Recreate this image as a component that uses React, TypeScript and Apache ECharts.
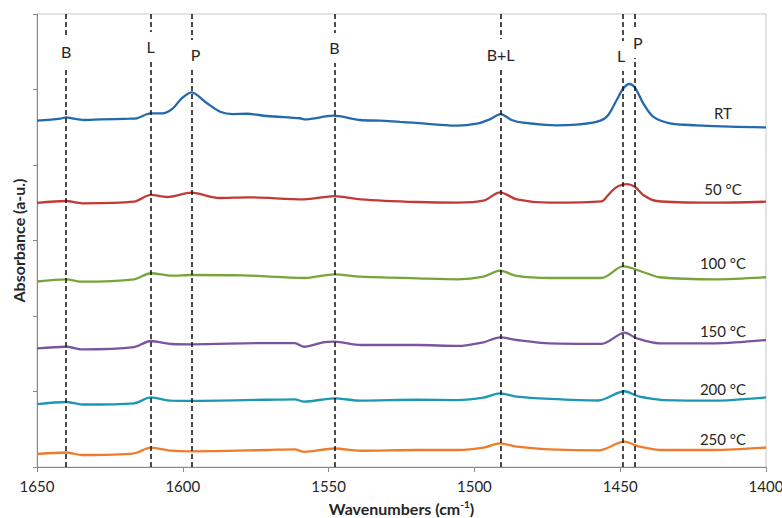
import { useEffect, useRef } from 'react';
import * as echarts from 'echarts';

// Spectra as [wavenumber (cm-1), absorbance (a.u., stacked offset)] pairs
const rtSpectrum = [
  [1650, 4.587], [1642, 4.613], [1640, 4.632], [1638, 4.619], [1634, 4.596], [1628, 4.605],
  [1618, 4.613], [1615.8, 4.619], [1612.4, 4.672], [1611, 4.685], [1607, 4.685], [1603.4, 4.751],
  [1600.4, 4.883], [1597, 4.963], [1591.8, 4.821], [1587.2, 4.706], [1582.8, 4.675], [1578, 4.679],
  [1571.2, 4.649], [1559.8, 4.619], [1558, 4.605], [1548.5, 4.653], [1539.2, 4.596], [1532.4, 4.587],
  [1525.5, 4.57], [1521, 4.56], [1506, 4.521], [1499.2, 4.547], [1494.7, 4.605], [1491, 4.675],
  [1487.2, 4.596], [1483.3, 4.56], [1471.8, 4.526], [1459.3, 4.56], [1454.6, 4.64], [1451.2, 4.861],
  [1448.9, 5.016], [1446.9, 5.073], [1445, 5.029], [1442.1, 4.817], [1438.7, 4.64], [1433, 4.552],
  [1423.8, 4.526], [1412.4, 4.507], [1400, 4.499],
];

const spectrum50 = [
  [1650, 3.497], [1640, 3.523], [1634.5, 3.493], [1616.7, 3.514], [1611, 3.603], [1605.4, 3.576],
  [1597, 3.633], [1587.5, 3.563], [1577.8, 3.572], [1558.4, 3.546], [1548, 3.589], [1539, 3.546],
  [1519.5, 3.51], [1505.8, 3.501], [1496.9, 3.527], [1491.2, 3.638], [1485.5, 3.546], [1474.2, 3.501],
  [1456.4, 3.517], [1454.2, 3.6], [1452.5, 3.669], [1450.6, 3.722], [1447.8, 3.748], [1445, 3.713],
  [1442.1, 3.603], [1437.5, 3.523], [1418.2, 3.501], [1400, 3.514],
];

const spectrum100 = [
  [1650, 2.457], [1640, 2.486], [1634.5, 2.454], [1616.7, 2.486], [1611, 2.566], [1603.8, 2.534],
  [1597, 2.543], [1579.4, 2.539], [1558.4, 2.503], [1548, 2.552], [1539, 2.521], [1519.5, 2.499],
  [1505.8, 2.486], [1496.9, 2.521], [1491.2, 2.6], [1485.5, 2.53], [1474.2, 2.503], [1456.4, 2.503],
  [1449, 2.656], [1441, 2.566], [1436.5, 2.513], [1417.5, 2.486], [1400, 2.513],
];

const spectrum150 = [
  [1650, 1.572], [1640, 1.593], [1634.5, 1.559], [1616.7, 1.589], [1611, 1.669], [1603.8, 1.629],
  [1597, 1.625], [1571.3, 1.642], [1561.6, 1.642], [1558.4, 1.593], [1551.9, 1.652], [1548, 1.66],
  [1539, 1.616], [1519.5, 1.616], [1505.8, 1.603], [1496.9, 1.652], [1491.2, 1.718], [1485.5, 1.682],
  [1474.2, 1.638], [1456.4, 1.632], [1448.4, 1.779], [1444.4, 1.705], [1436.5, 1.638], [1417.5, 1.638],
  [1400, 1.682],
];

const spectrum200 = [
  [1650, 0.834], [1640, 0.861], [1634.5, 0.828], [1616.7, 0.844], [1611, 0.921], [1603.8, 0.878],
  [1597, 0.877], [1571.3, 0.891], [1561.6, 0.897], [1558.4, 0.865], [1548, 0.91], [1539, 0.878],
  [1519.5, 0.891], [1505.8, 0.887], [1496.9, 0.918], [1491.2, 0.976], [1485.5, 0.931], [1474.2, 0.901],
  [1457.5, 0.881], [1448.5, 1.003], [1445, 0.954], [1443.3, 0.931], [1438.8, 0.901], [1435.3, 0.887],
  [1418, 0.878], [1400, 0.921],
];

const spectrum250 = [
  [1650, 0.172], [1640, 0.192], [1634.5, 0.159], [1616.7, 0.181], [1611, 0.256], [1603.8, 0.216],
  [1597, 0.208], [1571.3, 0.225], [1561.6, 0.234], [1558.4, 0.201], [1548, 0.245], [1539, 0.215],
  [1519.5, 0.225], [1505.8, 0.225], [1496.9, 0.256], [1491.2, 0.314], [1485.5, 0.269], [1474.2, 0.234],
  [1457.5, 0.219], [1448.5, 0.335], [1445, 0.291], [1443.3, 0.269], [1438.8, 0.238], [1435.3, 0.225],
  [1418, 0.225], [1400, 0.258],
];

const seriesNames = ['RT', '50 °C', '100 °C', '150 °C', '200 °C', '250 °C'];
const spectra = [rtSpectrum, spectrum50, spectrum100, spectrum150, spectrum200, spectrum250];

// Assigned bands: Brønsted (B), Lewis (L), physisorbed (P)
const bandWavenumbers = [1640, 1611, 1597, 1548, 1491, 1449, 1445];
const bandNames = ['B', 'L', 'P', 'B', 'B+L', 'L', 'P'];

const xTicks = { min: 1400, max: 1650, step: 50 };

// styling / layout
const COLORS = ['#2369ad', '#c23a35', '#76a53a', '#7a559f', '#1b98b4', '#ef7b2b'];
const NAME_LIFT = [14, 13, 14, 9, 8, 9];
const BAND_LABEL_Y = [5.497, 5.563, 5.457, 5.55, 5.47, 5.444, 5.616];
const BAND_LABEL_DX = [0, 0, 4, 0, 0, -2, 3];
const FONT = 'Lato, "Open Sans", sans-serif';
const TEXT = '#262626';

export default function App() {
  const ref = useRef<HTMLDivElement>(null);

  useEffect(() => {
    if (!ref.current) return;
    const chart = echarts.init(ref.current, null, { renderer: 'svg' });

    const series: any[] = spectra.map((data, i) => ({
      name: seriesNames[i],
      type: 'line',
      data,
      showSymbol: false,
      symbol: 'none',
      smooth: 0.3,
      z: 2,
      lineStyle: { color: COLORS[i], width: 2.3 },
      itemStyle: { color: COLORS[i] },
      endLabel: {
        show: true,
        formatter: seriesNames[i],
        distance: 0,
        align: 'center',
        verticalAlign: 'middle',
        offset: [-43, -NAME_LIFT[i]],
        fontFamily: FONT,
        fontSize: 15,
        color: TEXT,
      },
    }));

    // dashed band markers
    series[0].markLine = {
      silent: true,
      symbol: ['none', 'none'],
      label: { show: false },
      lineStyle: { color: '#111', width: 1.5, type: [5, 3] },
      data: bandWavenumbers.map((v) => ({ xAxis: v })),
    };

    // band labels, boxed in white so they break the dashed lines
    series[5].markPoint = {
      silent: true,
      symbol: 'rect',
      symbolSize: 1,
      itemStyle: { color: 'rgba(0,0,0,0)' },
      label: {
        show: true,
        position: 'inside',
        formatter: (p: any) => p.name,
        fontFamily: FONT,
        fontSize: 16,
        color: TEXT,
        backgroundColor: '#fff',
        padding: [7, 2],
      },
      data: bandNames.map((n, i) => ({
        name: n,
        coord: [bandWavenumbers[i], BAND_LABEL_Y[i]],
        label: { offset: [BAND_LABEL_DX[i], 0] },
      })),
    };
    series[5].z = 4;

    chart.setOption({
      animation: false,
      backgroundColor: '#fff',
      grid: {
        left: 37,
        right: 16,
        top: 14,
        bottom: 51,
        show: true,
        borderColor: '#c8c8c8',
        borderWidth: 1,
        outerBoundsMode: 'none',
      },
      xAxis: {
        type: 'value',
        inverse: true,
        min: xTicks.min,
        max: xTicks.max,
        interval: xTicks.step,
        name: '{a|Wavenumbers (cm}{s|-1}{a|)}',
        nameLocation: 'middle',
        nameGap: 32,
        nameTextStyle: {
          rich: {
            a: { fontFamily: FONT, fontSize: 16, fontWeight: 'bold', color: TEXT },
            s: { fontFamily: FONT, fontSize: 10, fontWeight: 'bold', color: TEXT, padding: [0, 0, 9, 0] },
          },
        },
        axisLine: { lineStyle: { color: '#8a8a8a', width: 1 } },
        axisTick: { show: true, inside: false, length: 5, lineStyle: { color: '#8a8a8a' } },
        axisLabel: {
          fontFamily: FONT,
          fontSize: 15,
          color: TEXT,
          margin: 11,
          formatter: (v: number) => String(v),
        },
        splitLine: { show: false },
      },
      yAxis: {
        type: 'value',
        min: 0,
        max: 6,
        interval: 1,
        name: 'Absorbance (a-u.)',
        nameLocation: 'middle',
        nameGap: 11,
        nameTextStyle: { fontFamily: FONT, fontSize: 16, fontWeight: 'bold', color: TEXT },
        axisLine: { show: true, lineStyle: { color: '#8a8a8a', width: 1 } },
        axisTick: { show: true, inside: false, length: 4, lineStyle: { color: '#8a8a8a' } },
        axisLabel: { show: false },
        splitLine: { show: false },
      },
      series,
    });

    return () => chart.dispose();
  }, []);

  return (
    <div
      ref={ref}
      style={{ position: 'fixed', left: 0, top: 0, width: 782, height: 518, background: '#fff' }}
    />
  );
}
